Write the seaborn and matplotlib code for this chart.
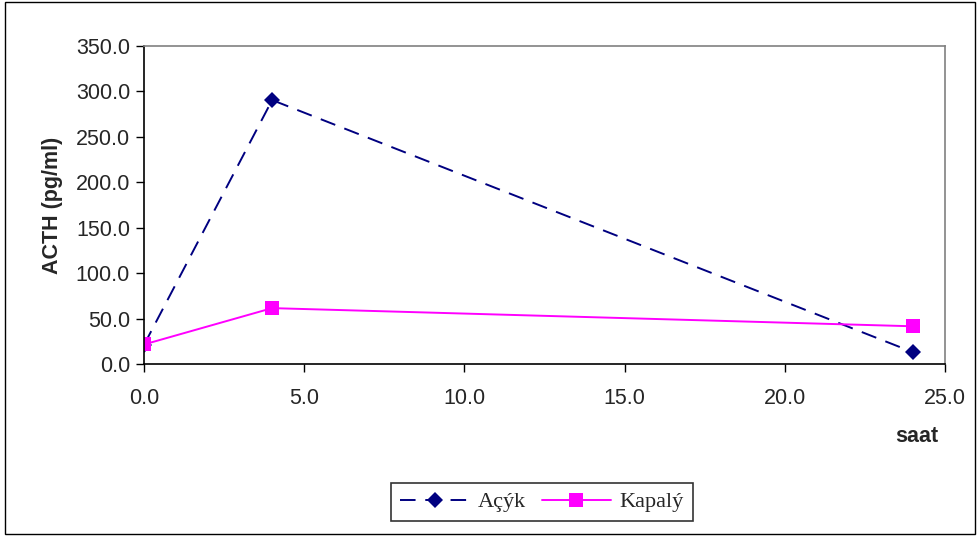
import matplotlib
matplotlib.use("Agg")
import matplotlib.pyplot as plt
import seaborn as sns
import pandas as pd
from matplotlib.patches import Rectangle

hours = [0, 4, 24]
acik = [21.0, 290.5, 13.0]
kapali = [21.5, 61.5, 41.5]
series_names = ["Açýk", "Kapalý"]
y_ticks = [0, 50, 100, 150, 200, 250, 300, 350]
x_ticks = [0, 5, 10, 15, 20, 25]

df = pd.DataFrame({
    "saat": hours * 2,
    "ACTH": acik + kapali,
    "grup": [series_names[0]] * 3 + [series_names[1]] * 3,
})

sns.set_style("white")
plt.rcParams["font.family"] = ["Liberation Sans", "DejaVu Sans"]

fig = plt.figure(figsize=(9.78, 5.36), dpi=100)
ax = fig.add_axes([144 / 978, 1 - 364 / 536, (945 - 144) / 978, (364 - 46) / 536])

palette = {series_names[0]: "#000080", series_names[1]: "#FF00FF"}
sns.lineplot(data=df, x="saat", y="ACTH", hue="grup", style="grup",
             palette=palette,
             dashes={series_names[0]: (8, 5), series_names[1]: ""},
             markers={series_names[0]: "D", series_names[1]: "s"},
             markersize=10, linewidth=1.4, markeredgewidth=0,
             ax=ax, legend=True)
for line in ax.lines:
    if line.get_marker() == "D":
        line.set_markersize(8.5)

ax.set_xlim(0, 25)
ax.set_ylim(0, 350)
ax.set_xticks(x_ticks)
ax.set_yticks(y_ticks)
ax.set_xticklabels([f"{v:.1f}" for v in x_ticks], fontsize=15.5)
ax.set_yticklabels([f"{v:.1f}" for v in y_ticks], fontsize=15.5)
ax.tick_params(axis="both", direction="out", length=6, width=1, color="black",
               left=True, bottom=True, pad=4)
ax.tick_params(axis="x", pad=11)
ax.set_xlabel("")
ax.set_ylabel("ACTH (pg/ml)", fontsize=15.5, fontweight="bold", labelpad=9)
ax.grid(False)
for s in ["left", "bottom"]:
    ax.spines[s].set_color("black")
    ax.spines[s].set_linewidth(1.2)
for s in ["top", "right"]:
    ax.spines[s].set_color("#808080")
    ax.spines[s].set_linewidth(1.2)

handles, labels = ax.get_legend_handles_labels()
ax.get_legend().remove()
leg = fig.legend(handles, labels, loc="center", bbox_to_anchor=(542 / 978, 1 - 502 / 536),
                 ncol=2, frameon=True, fancybox=False, edgecolor="black",
                 prop={"family": "Liberation Serif", "size": 16},
                 handlelength=3.1, columnspacing=0.7, handletextpad=0.4,
                 borderpad=0.4, borderaxespad=0)
leg.get_frame().set_linewidth(1.2)

fig.text(917 / 978, 1 - 437 / 536, "saat", fontsize=15.5, fontweight="bold",
         ha="center", va="center")

fig.patches.append(Rectangle((5 / 978, 2 / 536), 970 / 978, 532 / 536,
                             transform=fig.transFigure, fill=False,
                             edgecolor="black", linewidth=1))

fig.savefig("out.png", dpi=100)
